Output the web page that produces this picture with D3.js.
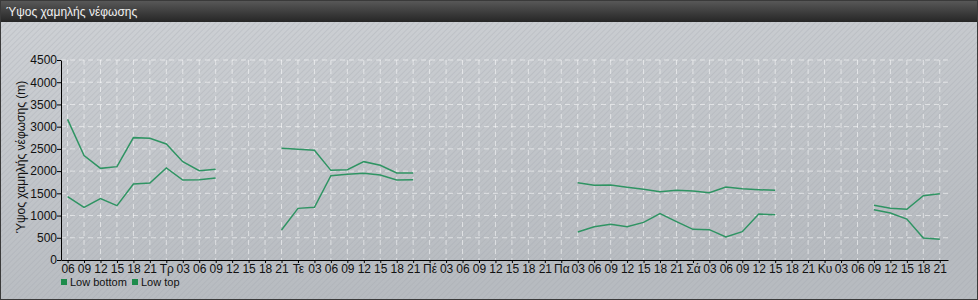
<!DOCTYPE html>
<html>
<head>
<meta charset="utf-8">
<script src="https://cdn.jsdelivr.net/npm/d3@7"></script>
<style>
body { margin: 0; background: #c8cbcf; }
svg { display: block; font-family: "Liberation Sans", Arial, sans-serif; }
</style>
</head>
<body>
<svg id="chart"></svg>
<script>
// tick labels, one every 3 hours
var tickLabels = ["06","09","12","15","18","21",
  "Τρ","03","06","09","12","15","18","21",
  "Τε","03","06","09","12","15","18","21",
  "Πέ","03","06","09","12","15","18","21",
  "Πα","03","06","09","12","15","18","21",
  "Σά","03","06","09","12","15","18","21",
  "Κυ","03","06","09","12","15","18","21"]

var yTicks = [0,500,1000,1500,2000,2500,3000,3500,4000,4500]

var seriesNames = ["Low bottom", "Low top"]

var lowBottom = [1425,1185,1380,1222,1710,1732,2070,1800,1807,1845,
  null,null,null,
  675,1162,1185,1897,1928,1950,1912,1800,1807,
  null,null,null,null,null,null,null,null,null,
  630,750,802,750,847,1042,862,690,682,518,637,1035,1020,
  null,null,null,null,null,
  1132,1057,922,495,465]

var lowTop = [3165,2348,2062,2100,2753,2737,2610,2212,2010,2040,
  null,null,null,
  2512,2490,2468,2017,2033,2213,2130,1958,1958,
  null,null,null,null,null,null,null,null,null,
  1740,1680,1688,1635,1590,1537,1567,1553,1515,1643,1605,1582,1567,
  null,null,null,null,null,
  1230,1162,1140,1447,1492]

var width = 978
var height = 300
var lineColor = "#2f9463"

var svg = d3.select('#chart')
            .attr('width', width)
            .attr('height', height)

var defs = svg.append('defs')

var bg = defs.append('linearGradient').attr('id','bgGrad')
              .attr('x1',0).attr('y1',0).attr('x2',0.3).attr('y2',1)
bg.append('stop').attr('offset','0%').attr('stop-color','#cfd2d6')
bg.append('stop').attr('offset','100%').attr('stop-color','#b7bbc0')

var stripes = defs.append('pattern').attr('id','stripes')
                  .attr('patternUnits','userSpaceOnUse')
                  .attr('width',4).attr('height',4)
                  .attr('patternTransform','rotate(45)')
stripes.append('line')
       .attr('x1',0).attr('y1',0).attr('x2',0).attr('y2',4)
       .attr('stroke','#9ea3a8').attr('stroke-width',1.2).attr('stroke-opacity',0.45)

var head = defs.append('linearGradient').attr('id','headGrad')
               .attr('x1',0).attr('y1',0).attr('x2',0).attr('y2',1)
head.append('stop').attr('offset','0%').attr('stop-color','#5a5a5a')
head.append('stop').attr('offset','100%').attr('stop-color','#262626')

// background
svg.append('rect').attr('width',width).attr('height',height).attr('fill','url(#bgGrad)')
svg.append('rect').attr('width',width).attr('height',height).attr('fill','url(#stripes)')

// title bar
svg.append('rect').attr('width',width).attr('height',22).attr('fill','url(#headGrad)')
svg.append('text')
   .attr('x',6).attr('y',16)
   .attr('fill','#f0f0f0')
   .style('font-size','12px')
   .text("Ύψος χαμηλής νέφωσης")

svg.append('rect')
   .attr('x',0.5).attr('y',0.5).attr('width',width-1).attr('height',height-1)
   .attr('fill','none').attr('stroke','#3a3a3a')

var plotLeft = 61, plotRight = 948, plotTop = 60, plotBottom = 260

var xScale = d3.scaleLinear()
               .domain([-0.4, tickLabels.length - 0.5])
               .range([plotLeft, plotRight])

var yScale = d3.scaleLinear()
               .domain([0, 4500])
               .range([plotBottom, plotTop])

var plot = svg.append('g')

// grid
plot.selectAll('line.vgrid')
    .data(tickLabels)
    .enter()
    .append('line')
    .attr('class','vgrid')
    .attr('x1',function(d,i){return xScale(i)})
    .attr('x2',function(d,i){return xScale(i)})
    .attr('y1',plotTop).attr('y2',plotBottom)
    .attr('stroke','#ffffff').attr('stroke-opacity',0.55)
    .attr('stroke-dasharray','5,4')

plot.selectAll('line.hgrid')
    .data(yTicks.slice(1))
    .enter()
    .append('line')
    .attr('class','hgrid')
    .attr('x1',plotLeft).attr('x2',plotRight)
    .attr('y1',function(d){return yScale(d)})
    .attr('y2',function(d){return yScale(d)})
    .attr('stroke','#ffffff').attr('stroke-opacity',0.55)
    .attr('stroke-dasharray','5,4')

// axes
var xAxis = d3.axisBottom(xScale)
              .tickValues(d3.range(tickLabels.length))
              .tickFormat(function(d){return tickLabels[d]})
              .tickSize(3)
              .tickSizeOuter(0)
var gx = svg.append('g').attr('transform','translate(0,' + plotBottom + ')').call(xAxis)

var yAxis = d3.axisLeft(yScale)
              .tickValues(yTicks)
              .tickFormat(d3.format('d'))
              .tickSize(4)
              .tickSizeOuter(0)
var gy = svg.append('g').attr('transform','translate(' + plotLeft + ',0)').call(yAxis)

;[gx, gy].forEach(function(g){
  g.select('.domain').attr('stroke','#000')
  g.selectAll('.tick line').attr('stroke','#000')
  g.selectAll('.tick text').attr('fill','#111').style('font-size','12px')
    .style('font-family','"Liberation Sans", Arial, sans-serif')
})
gx.selectAll('.tick text').attr('dy','0.55em')
gy.selectAll('.tick text').attr('x',-4)

svg.append('text')
   .attr('transform','translate(25,157) rotate(-90)')
   .attr('text-anchor','middle')
   .attr('fill','#111')
   .style('font-size','12px')
   .text("Ύψος χαμηλής νέφωσης (m)")

// lines
var line = d3.line()
             .defined(function(d){return d !== null})
             .x(function(d,i){return xScale(i)})
             .y(function(d){return yScale(d)})

;[lowBottom, lowTop].forEach(function(s){
  plot.append('path')
      .datum(s)
      .attr('d', line)
      .attr('fill','none')
      .attr('stroke', lineColor)
      .attr('stroke-width',1.5)
})

// legend
var legendX = [61, 132]
var legend = svg.selectAll('g.legend')
                .data(seriesNames)
                .enter()
                .append('g')
                .attr('transform',function(d,i){return 'translate(' + legendX[i] + ',277)'})
legend.append('rect').attr('x',0).attr('y',2).attr('width',6).attr('height',6).attr('fill','#1e8c4c')
legend.append('text').attr('x',9).attr('y',8.5)
      .attr('fill','#111').style('font-size','11px')
      .text(function(d){return d})
</script>
</body>
</html>
